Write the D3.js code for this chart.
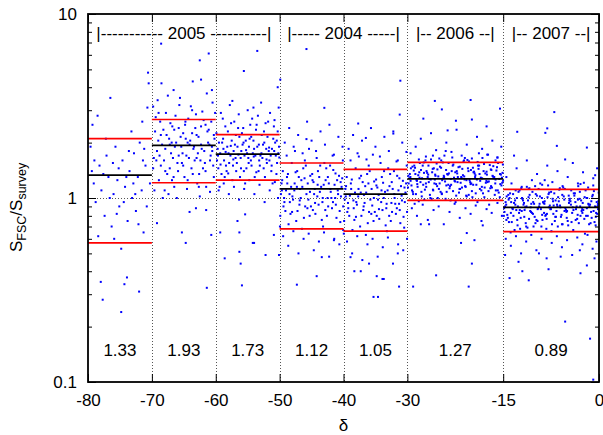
<!DOCTYPE html>
<html><head><meta charset="utf-8">
<script src="https://cdn.jsdelivr.net/npm/d3@7"></script>
<style>body{margin:0;background:#fff}svg{display:block}</style>
</head><body><svg id="c" width="603" height="435"></svg>
<script>
// ---- data ----
const binEdges = [-80, -70, -60, -50, -40, -30, -15, 0];
const binMedian = [1.33, 1.93, 1.73, 1.12, 1.05, 1.27, 0.89];
const binLow = [0.57, 1.21, 1.25, 0.68, 0.66, 0.97, 0.656];
const binHigh = [2.10, 2.67, 2.21, 1.55, 1.43, 1.56, 1.115];
const medianLabels = ["1.33", "1.93", "1.73", "1.12", "1.05", "1.27", "0.89"];
const yearLabels = ["|----------- 2005 ----------|", "|----- 2004 -----|", "|-- 2006 --|", "|-- 2007 --|"];
const yearCenters = [-65, -40, -22.5, -7.5];
const xTicks = [-80, -70, -60, -50, -40, -30, -15, 0];
const xTickLabels = ["-80", "-70", "-60", "-50", "-40", "-30", "-15", "0"];
const yMajorTicks = [0.1, 1, 10];
const yTickLabels = ["0.1", "1", "10"];
const yMinorTicks = [0.2,0.3,0.4,0.5,0.6,0.7,0.8,0.9,2,3,4,5,6,7,8,9];

const bin1Points = [[-70.6,4.8],[-70.5,4.2],[-70.7,3.1],[-76.5,3.5],[-78.5,2.8],[-79.3,2.5],[-73.2,2.3],[-71.5,2.6],
[-78,0.35],[-77.7,0.28],[-74.8,0.24],[-73.9,0.37],[-74.3,0.34],[-72,0.31],[-74.8,0.53],
[-79.6,1.9],[-79.1,1.2],[-78.8,0.95],[-78.2,1.5],[-77.9,1.1],[-77.4,0.8],[-77.1,1.7],[-76.8,1.3],[-76.3,0.7],[-76,1.05],[-75.7,1.9],[-75.4,1.25],[-75.1,0.9],[-74.6,1.6],[-74.2,1.15],[-73.8,0.75],[-73.5,1.4],[-73.1,1],[-72.8,1.75],[-72.5,0.85],[-72.2,1.3],[-71.9,2],[-71.6,1.1],[-71.3,0.65],[-71,1.5],[-70.3,1.2],[-79,1.6],[-78.4,0.62],[-77.6,1.35],[-76.6,1],[-75.9,0.6],[-75.2,1.45],[-74.4,0.95],[-73.6,1.8],[-72.9,1.2],[-72.1,0.72],[-71.4,1.6],[-70.8,0.9],[-79.4,1.4],[-77.2,2.1],[-75.5,0.82],[-74,1.3],[-72.6,1.05],[-71.2,1.85],[-76.1,1.55]];

const bin2Points = [[-68.55,6.9],[-61.1,6.1],[-62.5,5.6],[-62.3,4.4],[-63.6,4.3],[-68.5,4.2],[-66.6,3.86],[-60.6,3.86],[-69.8,3.14],
[-69.2,0.73],[-65.3,0.65],[-64.7,0.57],[-64.1,0.84],[-63.1,0.88],[-61.5,0.86],[-60.7,0.63],[-61.4,0.325],
[-69.8,1.45],[-69.5,2.3],[-69.2,1.8],[-68.9,1.25],[-68.7,2.6],[-68.4,1.95],[-68.1,1.6],[-67.8,2.9],[-67.6,1.35],[-67.3,2.1],[-67,1.75],[-66.8,2.45],[-66.5,1.15],[-66.2,2],[-66,1.55],[-65.7,3.2],[-65.4,1.9],[-65.1,2.25],[-64.9,1.3],[-64.6,1.7],[-64.3,2.7],[-64,2.05],[-63.8,1.45],[-63.5,1.85],[-63.2,2.4],[-62.9,1.2],[-62.7,2.15],[-62.4,1.6],[-62.1,2.95],[-61.8,1.8],[-61.6,1.4],[-61.3,2.3],[-61,1.95],[-60.7,2.6],[-60.4,1.5],[-60.2,2.1],
[-69.6,1.1],[-69,2.05],[-68.6,1.5],[-68.2,2.35],[-67.9,1.85],[-67.4,1.05],[-67.1,2.55],[-66.7,1.65],[-66.3,2.8],[-65.9,1.4],[-65.5,2.15],[-65.2,1.75],[-64.8,2.5],[-64.4,1.25],[-64.1,1.95],[-63.7,3],[-63.3,1.6],[-63,2.2],[-62.6,1.35],[-62.2,1.85],[-61.9,2.65],[-61.5,1.15],[-61.2,2],[-60.8,1.7],[-60.5,3.3],[-60.3,1.3],
[-69.4,2.75],[-68.8,1.7],[-68.3,1],[-67.7,2.2],[-67.2,1.45],[-66.9,2],[-66.4,1.9],[-65.8,2.4],[-65.3,1.55],[-64.7,2.1],[-64.2,1.65],[-63.6,1.35],[-63.1,2.85],[-62.8,1.75],[-62.3,2.45],[-61.7,1.55],[-61.1,2.35],[-60.6,1.9],[-69.1,3.4],[-67.5,3.6],[-65.6,3.5],[-63.9,3.15],[-61.4,3.7],[-60.1,2.9],[-68,1.1],[-66.1,1],[-64.5,1.12],[-62.5,1.02],[-60.9,1.08],[-69.7,1.65],[-66.6,1.3],[-63.4,1.9],[-62,1.45],
[-69.3,1.6],[-68.6,2.2],[-67.9,1.4],[-67.2,1.95],[-66.5,2.35],[-65.8,1.7],[-65.1,1.5],[-64.4,2],[-63.7,2.25],[-63,1.65],[-62.3,1.95],[-61.6,2.5],[-60.9,1.6],[-60.3,2.2],[-68.95,2.9],[-66.85,1.25],[-64.75,2.6],[-62.65,1.15],[-60.55,1.8]];

const bin3Points = [[-53.5,6.3],[-55.6,4.9],[-57.4,3.37],[-54.1,3.1],[-50.3,4],
[-59.3,0.65],[-56.3,0.65],[-55.4,0.815],[-56.6,0.75],[-56.3,0.51],[-56.1,0.44],[-55.9,0.335],[-58.6,0.47],[-54.2,0.57],[-54,0.57],[-52.2,0.49],[-50.9,0.63],[-50.1,0.49],
[-59.8,1.6],[-59.5,2],[-59.1,1.35],[-58.8,1.85],[-58.4,1.5],[-58.1,2.3],[-57.7,1.7],[-57.4,1.25],[-57,1.95],[-56.7,1.55],[-56.3,2.15],[-56,1.8],[-55.6,1.4],[-55.3,2.05],[-54.9,1.65],[-54.6,2.5],[-54.2,1.75],[-53.9,1.3],[-53.5,1.9],[-53.2,1.6],[-52.8,2.2],[-52.5,1.45],[-52.1,1.85],[-51.8,2.6],[-51.4,1.7],[-51.1,1.2],[-50.7,2],[-50.4,1.55],[-50.1,1.9],
[-59.9,2.25],[-59.6,1.45],[-59.3,1.75],[-58.9,2.7],[-58.6,1.3],[-58.2,1.9],[-57.9,1.55],[-57.5,2.05],[-57.2,1.8],[-56.8,1.4],[-56.5,2.4],[-56.1,1.65],[-55.8,1.95],[-55.4,1.2],[-55.1,1.75],[-54.7,2.1],[-54.4,1.5],[-54,1.85],[-53.7,2.35],[-53.3,1.4],[-53,1.7],[-52.6,1.95],[-52.3,1.3],[-51.9,2.15],[-51.6,1.6],[-51.2,1.85],[-50.9,2.45],[-50.5,1.35],[-50.2,1.75],
[-59.7,1.85],[-59.4,1.15],[-59,2],[-58.7,1.6],[-58.3,1.4],[-58,1.75],[-57.6,2.55],[-57.3,1.5],[-56.9,1.65],[-56.6,1.9],[-56.2,1.3],[-55.9,2.25],[-55.5,1.7],[-55.2,1.45],[-54.8,1.9],[-54.5,1.6],[-54.1,2.05],[-53.8,1.7],[-53.4,2.8],[-53.1,1.5],[-52.7,1.65],[-52.4,2],[-52,1.55],[-51.7,1.8],[-51.3,1.4],[-51,2.1],[-50.6,1.7],[-50.3,2.3],
[-59.2,2.9],[-58.5,2.45],[-57.8,3.2],[-57.1,2.6],[-56.4,2.85],[-55.7,2.4],[-55,3],[-54.3,2.7],[-53.6,2.5],[-52.9,3.3],[-52.2,2.55],[-51.5,2.9],[-50.8,2.65],[-50.15,3.1],
[-59.55,1.1],[-58.75,1.2],[-57.95,1.05],[-57.15,1.15],[-56.35,0.98],[-55.55,1.12],[-54.75,1.25],[-53.95,1.05],[-53.15,1.18],[-52.35,0.95],[-51.55,1.1],[-50.75,1.22],[-50.25,1],
[-59.65,1.7],[-59.25,1.52],[-58.85,2.1],[-58.45,1.78],[-58.05,1.36],[-57.65,1.92],[-57.25,1.62],[-56.85,2.2],[-56.45,1.72],[-56.05,1.45],[-55.65,2],[-55.25,1.82],[-54.85,1.55],[-54.45,2.15],[-54.05,1.68],[-53.65,1.38],[-53.25,1.95],[-52.85,1.75],[-52.45,2.3],[-52.05,1.62],[-51.65,1.88],[-51.25,1.5],[-50.85,1.8],[-50.45,2.05],[-50.05,1.66]];

const bin4Points = [[-45.8,6.45],[-43,3.09],[-45.8,2.09],[-49.9,4.4],[-44.2,0.376],[-43.4,0.477],[-41.5,0.59],[-47.3,0.338],
[-49.8,1.05],[-49.5,1.4],[-49.1,0.85],[-48.8,1.2],[-48.4,0.95],[-48.1,1.55],[-47.7,1.1],[-47.4,0.75],[-47,1.3],[-46.7,1],[-46.3,1.45],[-46,0.9],[-45.6,1.2],[-45.3,0.8],[-44.9,1.35],[-44.6,1.05],[-44.2,1.65],[-43.9,0.92],[-43.5,1.15],[-43.2,0.7],[-42.8,1.25],[-42.5,1],[-42.1,1.5],[-41.8,0.88],[-41.4,1.18],[-41.1,0.78],[-40.7,1.32],[-40.4,1.02],[-40.1,1.6],
[-49.9,0.8],[-49.6,1.25],[-49.3,1],[-48.9,1.7],[-48.6,0.72],[-48.2,1.15],[-47.9,0.98],[-47.5,1.38],[-47.2,0.85],[-46.8,1.12],[-46.5,0.68],[-46.1,1.28],[-45.8,1.05],[-45.4,1.85],[-45.1,0.9],[-44.7,1.22],[-44.4,0.82],[-44,1.4],[-43.7,1.08],[-43.3,0.95],[-43,1.55],[-42.6,0.8],[-42.3,1.2],[-41.9,1],[-41.6,1.42],[-41.2,0.92],[-40.9,1.1],[-40.5,0.74],[-40.2,1.28],
[-49.7,1.2],[-49.4,0.9],[-49,1.1],[-48.7,1.35],[-48.3,0.82],[-48,1.02],[-47.6,1.8],[-47.3,1.15],[-46.9,0.92],[-46.6,1.25],[-46.2,0.78],[-45.9,1.5],[-45.5,0.98],[-45.2,1.32],[-44.8,0.86],[-44.5,1.12],[-44.1,1.02],[-43.8,1.3],[-43.4,0.76],[-43.1,1.18],[-42.7,1.45],[-42.4,0.9],[-42,1.08],[-41.7,1.7],[-41.3,1],[-41,1.25],[-40.6,0.85],[-40.3,1.15],
[-49.2,2],[-48.5,2.4],[-47.8,1.9],[-47.1,2.2],[-46.4,1.75],[-45.7,2.6],[-45,2.05],[-44.3,1.8],[-43.6,2.3],[-42.9,1.95],[-42.2,2.5],[-41.5,1.72],[-40.8,2.15],[-40.15,1.9],
[-49.45,0.62],[-48.65,0.55],[-47.85,0.66],[-47.05,0.5],[-46.25,0.6],[-45.45,0.64],[-44.65,0.52],[-43.85,0.58],[-43.05,0.65],[-42.25,0.48],[-41.45,0.6],[-40.65,0.56],[-49.95,0.7],[-40.05,0.67],
[-49.65,1.1],[-49.25,0.95],[-48.85,1.3],[-48.45,1.05],[-48.05,0.84],[-47.65,1.2],[-47.25,1.4],[-46.85,0.97],[-46.45,1.15],[-46.05,1.6],[-45.65,0.88],[-45.25,1.08],[-44.85,1.25],[-44.45,0.94],[-44.05,1.18],[-43.65,1.5],[-43.25,1],[-42.85,0.86],[-42.45,1.3],[-42.05,1.12],[-41.65,0.95],[-41.25,1.36],[-40.85,1.05],[-40.45,1.22],[-40.05,0.9]];

const bin5Points = [[-31.1,4.34],[-37.7,2.54],[-31.2,2.84],[-32.2,2.24],[-36.5,2.12],
[-35.3,0.29],[-34.6,0.29],[-33.9,0.363],[-33.7,0.363],[-34.8,0.376],[-31.3,0.33],[-36,0.44],[-38.3,0.4],[-37.3,0.4],[-38.9,0.477],[-31.5,0.5],
[-39.8,0.98],[-39.5,1.3],[-39.1,0.8],[-38.8,1.12],[-38.4,0.88],[-38.1,1.45],[-37.7,1.02],[-37.4,0.7],[-37,1.22],[-36.7,0.94],[-36.3,1.35],[-36,0.84],[-35.6,1.12],[-35.3,0.75],[-34.9,1.26],[-34.6,0.98],[-34.2,1.55],[-33.9,0.86],[-33.5,1.08],[-33.2,0.66],[-32.8,1.16],[-32.5,0.94],[-32.1,1.4],[-31.8,0.82],[-31.4,1.1],[-31.1,0.73],[-30.7,1.24],[-30.4,0.95],[-30.1,1.5],
[-39.9,0.75],[-39.6,1.16],[-39.3,0.94],[-38.9,1.6],[-38.6,0.67],[-38.2,1.07],[-37.9,0.92],[-37.5,1.28],[-37.2,0.8],[-36.8,1.04],[-36.5,0.63],[-36.1,1.2],[-35.8,0.98],[-35.4,1.72],[-35.1,0.84],[-34.7,1.14],[-34.4,0.77],[-34,1.3],[-33.7,1],[-33.3,0.88],[-33,1.45],[-32.6,0.75],[-32.3,1.12],[-31.9,0.93],[-31.6,1.32],[-31.2,0.86],[-30.9,1.03],[-30.5,0.69],[-30.2,1.2],
[-39.7,1.12],[-39.4,0.84],[-39,1.03],[-38.7,1.26],[-38.3,0.76],[-38,0.95],[-37.6,1.68],[-37.3,1.07],[-36.9,0.86],[-36.6,1.16],[-36.2,0.73],[-35.9,1.4],[-35.5,0.91],[-35.2,1.23],[-34.8,0.8],[-34.5,1.04],[-34.1,0.95],[-33.8,1.21],[-33.4,0.71],[-33.1,1.1],[-32.7,1.35],[-32.4,0.84],[-32,1],[-31.7,1.58],[-31.3,0.93],[-31,1.16],[-30.6,0.79],[-30.3,1.07],
[-39.2,1.85],[-38.5,2.2],[-37.8,1.75],[-37.1,2.05],[-36.4,1.62],[-35.7,2.4],[-35,1.9],[-34.3,1.68],[-33.6,2.15],[-32.9,1.8],[-32.2,2.3],[-31.5,1.6],[-30.8,2],[-30.15,1.78],
[-39.45,0.58],[-38.65,0.5],[-37.85,0.62],[-37.05,0.46],[-36.25,0.56],[-35.45,0.6],[-34.65,0.48],[-33.85,0.54],[-33.05,0.61],[-32.25,0.44],[-31.45,0.56],[-30.65,0.52],[-39.95,0.64],[-30.05,0.6],
[-39.65,1.02],[-39.25,0.88],[-38.85,1.2],[-38.45,0.97],[-38.05,0.79],[-37.65,1.12],[-37.25,1.32],[-36.85,0.9],[-36.45,1.07],[-36.05,1.5],[-35.65,0.82],[-35.25,1],[-34.85,1.17],[-34.45,0.87],[-34.05,1.1],[-33.65,1.4],[-33.25,0.93],[-32.85,0.8],[-32.45,1.22],[-32.05,1.05],[-31.65,0.88],[-31.25,1.28],[-30.85,0.97],[-30.45,1.14],[-30.05,0.84]];

const bin6Points = [[-25.7,3.37],[-20.1,3.41],[-15.5,3.06],[-24.6,3.03],[-27.5,2.7],[-22.4,2.63],[-19.9,2.67],[-23.7,2.33],[-17.6,2.45],
[-25.5,0.38],[-20.4,0.33],[-19.9,0.44],[-21.6,0.57],[-19.5,0.59],[-20.7,0.645],[-26.6,0.72],[-27.9,0.72],[-18.2,0.71],[-29.1,0.33],
[-29.8,1.2],[-29.45,1.45],[-29.1,1.05],[-28.75,1.35],[-28.4,1.15],[-28.05,1.55],[-27.7,1.28],[-27.35,0.98],[-27,1.4],[-26.65,1.22],[-26.3,1.62],[-25.95,1.1],[-25.6,1.32],[-25.25,1],[-24.9,1.48],[-24.55,1.25],[-24.2,1.7],[-23.85,1.08],[-23.5,1.36],[-23.15,1.18],[-22.8,1.52],[-22.45,0.95],[-22.1,1.3],[-21.75,1.12],[-21.4,1.44],[-21.05,1.26],[-20.7,1.02],[-20.35,1.58],[-20,1.2],[-19.65,1.38],[-19.3,1.06],[-18.95,1.5],[-18.6,1.24],[-18.25,1.65],[-17.9,1.14],[-17.55,1.34],[-17.2,0.92],[-16.85,1.42],[-16.5,1.28],[-16.15,1.1],[-15.8,1.55],[-15.45,1.19],[-15.1,1.37],
[-29.62,1.35],[-29.27,1.1],[-28.92,1.5],[-28.57,1.25],[-28.22,0.96],[-27.87,1.42],[-27.52,1.18],[-27.17,1.6],[-26.82,1.3],[-26.47,1.04],[-26.12,1.38],[-25.77,1.2],[-25.42,1.54],[-25.07,1.12],[-24.72,1.46],[-24.37,1.28],[-24.02,0.99],[-23.67,1.34],[-23.32,1.16],[-22.97,1.66],[-22.62,1.24],[-22.27,1.4],[-21.92,1.07],[-21.57,1.3],[-21.22,1.58],[-20.87,1.15],[-20.52,1.45],[-20.17,1.22],[-19.82,1.01],[-19.47,1.36],[-19.12,1.26],[-18.77,1.5],[-18.42,1.1],[-18.07,1.4],[-17.72,1.21],[-17.37,1.72],[-17.02,1.13],[-16.67,1.32],[-16.32,1.04],[-15.97,1.47],[-15.62,1.27],[-15.27,1.17],[-15.05,1.52],
[-29.9,1.14],[-29.53,1.3],[-29.2,1.48],[-28.86,0.93],[-28.5,1.24],[-28.14,1.38],[-27.8,1.08],[-27.44,1.56],[-27.1,1.2],[-26.74,1.34],[-26.4,1],[-26.03,1.44],[-25.7,1.26],[-25.34,1.16],[-25,1.64],[-24.63,1.06],[-24.3,1.32],[-23.94,1.42],[-23.6,1.18],[-23.24,0.97],[-22.9,1.5],[-22.53,1.23],[-22.2,1.36],[-21.84,1.12],[-21.5,1.28],[-21.13,1.6],[-20.8,1.03],[-20.44,1.4],[-20.1,1.19],[-19.74,1.46],[-19.4,1.3],[-19.03,0.95],[-18.7,1.35],[-18.34,1.15],[-18,1.53],[-17.63,1.24],[-17.3,1.09],[-16.94,1.43],[-16.6,1.31],[-16.24,1.2],[-15.9,1.66],[-15.53,1.01],[-15.2,1.29],
[-29.7,1.28],[-29.36,1.17],[-29,1.41],[-28.66,1.05],[-28.3,1.33],[-27.95,1.22],[-27.6,1.5],[-27.26,1.11],[-26.9,1.37],[-26.56,1.27],[-26.2,0.99],[-25.86,1.45],[-25.5,1.19],[-25.16,1.31],[-24.8,1.08],[-24.46,1.56],[-24.1,1.23],[-23.76,1.35],[-23.4,1.13],[-23.06,1.4],[-22.7,1.29],[-22.36,1.03],[-22,1.47],[-21.66,1.21],[-21.3,1.33],[-20.96,1.16],[-20.6,1.61],[-20.26,1.25],[-19.9,1.09],[-19.56,1.39],[-19.2,1.18],[-18.86,1.44],[-18.5,1.29],[-18.16,1.06],[-17.8,1.36],[-17.46,1.22],[-17.1,1.51],[-16.76,1.14],[-16.4,1.3],[-16.06,1.41],[-15.7,1.07],[-15.36,1.34],[-15.02,1.24],
[-29.85,1.32],[-29.5,1.24],[-29.15,1.08],[-28.8,1.46],[-28.45,1.19],[-28.1,1.29],[-27.75,1.02],[-27.4,1.37],[-27.05,1.15],[-26.7,1.5],[-26.35,1.26],[-26,1.11],[-25.65,1.34],[-25.3,1.43],[-24.95,1.2],[-24.6,1.05],[-24.25,1.3],[-23.9,1.17],[-23.55,1.55],[-23.2,1.27],[-22.85,1.09],[-22.5,1.38],[-22.15,1.22],[-21.8,1.48],[-21.45,1.14],[-21.1,1.31],[-20.75,1.25],[-20.4,1.04],[-20.05,1.42],[-19.7,1.18],[-19.35,1.33],[-19,1.57],[-18.65,1.12],[-18.3,1.28],[-17.95,1.01],[-17.6,1.39],[-17.25,1.23],[-16.9,1.16],[-16.55,1.49],[-16.2,1.26],[-15.85,1.1],[-15.5,1.35],[-15.15,1.21],
[-29.5,1.75],[-28.7,1.9],[-27.9,2.1],[-27.1,1.68],[-26.3,2.25],[-25.5,1.82],[-24.7,1.6],[-23.9,2],[-23.1,1.78],[-22.3,2.35],[-21.5,1.7],[-20.7,1.95],[-19.9,1.64],[-19.1,2.15],[-18.3,1.85],[-17.5,1.72],[-16.7,2.05],[-15.9,1.66],[-15.3,1.9],[-28.2,1.62],[-26,1.7],[-24,1.8],[-21,1.65],[-18.8,1.75],[-16.2,1.6],
[-29.3,0.88],[-28.5,0.8],[-27.6,0.92],[-26.8,0.76],[-25.9,0.86],[-25.1,0.9],[-24.3,0.72],[-23.4,0.84],[-22.6,0.93],[-21.8,0.78],[-20.9,0.88],[-20.1,0.82],[-19.3,0.91],[-18.4,0.75],[-17.6,0.87],[-16.8,0.83],[-15.9,0.94],[-15.2,0.8]];

const bin7Points = [[-7,2.93],[-12.8,2.29],[-8.1,2.39],[-8.4,2.26],[-6.6,1.92],[-1.9,1.88],[-5.3,0.213],[-1.4,0.172],[-0.9,0.103],[-11,0.357],[-14,0.367],[-7.9,0.41],[-2.9,0.39],[-1.9,0.43],[-12,0.4],[-14.7,0.49],[-0.7,0.47],
[-14.8,0.84],[-14.45,1.02],[-14.1,0.74],[-13.75,0.95],[-13.4,0.8],[-13.05,1.1],[-12.7,0.9],[-12.35,0.68],[-12,0.99],[-11.65,0.86],[-11.3,1.15],[-10.95,0.77],[-10.6,0.93],[-10.25,0.7],[-9.9,1.05],[-9.55,0.88],[-9.2,1.2],[-8.85,0.76],[-8.5,0.96],[-8.15,0.82],[-7.8,1.07],[-7.45,0.66],[-7.1,0.91],[-6.75,0.79],[-6.4,1.01],[-6.05,0.89],[-5.7,0.72],[-5.35,1.12],[-5,0.85],[-4.65,0.97],[-4.3,0.74],[-3.95,1.06],[-3.6,0.87],[-3.25,1.16],[-2.9,0.8],[-2.55,0.94],[-2.2,0.64],[-1.85,1],[-1.5,0.9],[-1.15,0.78],[-0.8,1.09],[-0.45,0.83],[-0.1,0.96],
[-14.62,0.95],[-14.27,0.78],[-13.92,1.06],[-13.57,0.88],[-13.22,0.67],[-12.87,1],[-12.52,0.83],[-12.17,1.13],[-11.82,0.92],[-11.47,0.73],[-11.12,0.97],[-10.77,0.85],[-10.42,1.08],[-10.07,0.79],[-9.72,1.03],[-9.37,0.9],[-9.02,0.7],[-8.67,0.94],[-8.32,0.81],[-7.97,1.17],[-7.62,0.87],[-7.27,0.99],[-6.92,0.75],[-6.57,0.92],[-6.22,1.11],[-5.87,0.81],[-5.52,1.02],[-5.17,0.86],[-4.82,0.71],[-4.47,0.96],[-4.12,0.89],[-3.77,1.06],[-3.42,0.77],[-3.07,0.99],[-2.72,0.85],[-2.37,1.21],[-2.02,0.8],[-1.67,0.93],[-1.32,0.73],[-0.97,1.04],[-0.62,0.9],[-0.27,0.82],[-0.05,1.07],
[-14.9,0.8],[-14.53,0.92],[-14.2,1.04],[-13.84,0.65],[-13.5,0.87],[-13.14,0.97],[-12.8,0.76],[-12.44,1.1],[-12.1,0.85],[-11.74,0.94],[-11.4,0.7],[-11.03,1.01],[-10.7,0.89],[-10.34,0.82],[-10,1.16],[-9.63,0.75],[-9.3,0.93],[-8.94,1],[-8.6,0.83],[-8.24,0.68],[-7.9,1.05],[-7.53,0.87],[-7.2,0.96],[-6.84,0.79],[-6.5,0.9],[-6.13,1.13],[-5.8,0.72],[-5.44,0.98],[-5.1,0.84],[-4.74,1.03],[-4.4,0.92],[-4.03,0.67],[-3.7,0.95],[-3.34,0.81],[-3,1.08],[-2.63,0.87],[-2.3,0.77],[-1.94,1],[-1.6,0.92],[-1.24,0.84],[-0.9,1.17],[-0.53,0.71],[-0.2,0.91],
[-14.7,0.9],[-14.36,0.81],[-14,1],[-13.66,0.74],[-13.3,0.94],[-12.95,0.86],[-12.6,1.08],[-12.26,0.78],[-11.9,0.97],[-11.56,0.89],[-11.2,0.69],[-10.86,1.04],[-10.5,0.83],[-10.16,0.93],[-9.8,0.76],[-9.46,1.12],[-9.1,0.87],[-8.76,0.95],[-8.4,0.8],[-8.06,1.01],[-7.7,0.91],[-7.36,0.72],[-7,1.06],[-6.66,0.85],[-6.3,0.96],[-5.96,0.79],[-5.6,1.14],[-5.26,0.88],[-4.9,0.75],[-4.56,0.99],[-4.2,0.83],[-3.86,1.03],[-3.5,0.9],[-3.16,0.73],[-2.8,0.97],[-2.46,0.86],[-2.1,1.1],[-1.76,0.8],[-1.4,0.92],[-1.06,1.02],[-0.7,0.74],[-0.36,0.95],[-0.15,0.87],
[-14.85,0.88],[-14.5,0.76],[-14.15,0.98],[-13.8,0.83],[-13.45,1.05],[-13.1,0.92],[-12.75,0.71],[-12.4,0.86],[-12.05,1],[-11.7,0.79],[-11.35,0.9],[-11,1.12],[-10.65,0.84],[-10.3,0.95],[-9.95,0.73],[-9.6,0.87],[-9.25,1.02],[-8.9,0.81],[-8.55,0.93],[-8.2,0.77],[-7.85,0.89],[-7.5,1.08],[-7.15,0.82],[-6.8,0.97],[-6.45,0.7],[-6.1,0.91],[-5.75,1.04],[-5.4,0.85],[-5.05,0.78],[-4.7,0.94],[-4.35,1.1],[-4,0.86],[-3.65,0.76],[-3.3,0.98],[-2.95,0.9],[-2.6,0.83],[-2.25,1.01],[-1.9,0.88],[-1.55,0.72],[-1.2,0.96],[-0.85,0.85],[-0.5,0.79],[-0.15,0.93],
[-14.5,1.3],[-13.7,1.2],[-12.9,1.45],[-12.1,1.15],[-11.3,1.6],[-10.5,1.25],[-9.7,1.35],[-8.9,1.18],[-8.1,1.5],[-7.3,1.22],[-6.5,1.4],[-5.7,1.16],[-4.9,1.3],[-4.1,1.55],[-3.3,1.2],[-2.5,1.38],[-1.7,1.14],[-0.9,1.28],[-0.3,1.45],[-13.3,1.7],[-10.9,1.13],[-8.5,1.25],[-5.3,1.62],[-2.9,1.19],[-0.6,1.33],
[-14.6,0.6],[-13.8,0.55],[-13,0.62],[-12.2,0.5],[-11.4,0.58],[-10.6,0.63],[-9.8,0.52],[-9,0.6],[-8.2,0.47],[-7.4,0.57],[-6.6,0.62],[-5.8,0.54],[-5,0.59],[-4.2,0.49],[-3.4,0.61],[-2.6,0.56],[-1.8,0.63],[-1,0.53],[-0.4,0.58],[-12.6,0.45],[-9.4,0.5],[-6,0.48],[-3,0.52]];

// ---- drawing ----
const FONT = "'Liberation Sans', Arial, Helvetica, sans-serif";
const FS = 17;
const L = 88, R = 599, T = 14, B = 382;
const svg = d3.select("#c");
const x = d3.scaleLinear().domain([-80, 0]).range([L, R]);
const y = d3.scaleLog().domain([0.1, 10]).range([B, T]);

svg.append("defs").append("clipPath").attr("id", "plot")
  .append("rect").attr("x", L).attr("y", T).attr("width", R - L).attr("height", B - T);

// dotted guides
const guides = svg.append("g").attr("stroke", "#555").attr("stroke-width", 1).attr("stroke-dasharray", "1,2");
guides.selectAll("line.v").data(binEdges.slice(1, -1)).join("line")
  .attr("x1", d => Math.round(x(d)) + 0.5).attr("x2", d => Math.round(x(d)) + 0.5)
  .attr("y1", T).attr("y2", B);
guides.append("line").attr("x1", L).attr("x2", R)
  .attr("y1", Math.round(y(1)) + 0.5).attr("y2", Math.round(y(1)) + 0.5);

// scatter
const allPoints = [bin1Points, bin2Points, bin3Points, bin4Points, bin5Points, bin6Points, bin7Points].flat();
svg.append("g").attr("clip-path", "url(#plot)").selectAll("rect").data(allPoints).join("rect")
  .attr("x", d => x(d[0]) - 1).attr("y", d => y(d[1]) - 1)
  .attr("width", 2).attr("height", 2).attr("fill", "#0000ff");

// bin statistics
const bins = binMedian.map((m, i) => ({x0: binEdges[i], x1: binEdges[i + 1], med: m, lo: binLow[i], hi: binHigh[i], lab: medianLabels[i]}));
const stat = svg.append("g");
stat.selectAll("line.hi").data(bins).join("line")
  .attr("x1", d => x(d.x0)).attr("x2", d => x(d.x1)).attr("y1", d => y(d.hi)).attr("y2", d => y(d.hi))
  .attr("stroke", "#ff0000").attr("stroke-width", 1.7);
stat.selectAll("line.lo").data(bins).join("line")
  .attr("x1", d => x(d.x0)).attr("x2", d => x(d.x1)).attr("y1", d => y(d.lo)).attr("y2", d => y(d.lo))
  .attr("stroke", "#ff0000").attr("stroke-width", 1.7);
stat.selectAll("line.med").data(bins).join("line")
  .attr("x1", d => x(d.x0)).attr("x2", d => x(d.x1)).attr("y1", d => y(d.med)).attr("y2", d => y(d.med))
  .attr("stroke", "#000").attr("stroke-width", 1.7);

// labels inside the plot
svg.append("g").selectAll("text").data(bins).join("text")
  .attr("x", d => x((d.x0 + d.x1) / 2)).attr("y", 356)
  .attr("text-anchor", "middle").attr("font-family", FONT).attr("font-size", FS).text(d => d.lab);
svg.append("g").selectAll("text").data(yearLabels).join("text")
  .attr("x", (d, i) => x(yearCenters[i])).attr("y", 38.5)
  .attr("text-anchor", "middle").attr("font-family", FONT).attr("font-size", FS).text(d => d);

// axes
function styleAxis(g) {
  g.select(".domain").remove();
  g.selectAll(".tick line").attr("stroke", "#000").attr("stroke-width", 1);
  g.selectAll(".tick text").attr("font-family", FONT).attr("font-size", FS).attr("fill", "#000");
}
svg.append("g").attr("transform", `translate(0,${B})`)
  .call(d3.axisBottom(x).tickValues(xTicks).tickFormat((d, i) => xTickLabels[i]).tickSize(-8).tickPadding(12)).call(styleAxis);
svg.append("g").attr("transform", `translate(0,${T})`)
  .call(d3.axisTop(x).tickValues(xTicks).tickFormat("").tickSize(-8)).call(styleAxis);
svg.append("g").attr("transform", `translate(${L},0)`)
  .call(d3.axisLeft(y).tickValues(yMajorTicks).tickFormat((d, i) => yTickLabels[i]).tickSize(-8).tickPadding(11)).call(styleAxis);
svg.append("g").attr("transform", `translate(${L},0)`)
  .call(d3.axisLeft(y).tickValues(yMinorTicks).tickFormat("").tickSize(-4)).call(styleAxis);
svg.append("g").attr("transform", `translate(${R},0)`)
  .call(d3.axisRight(y).tickValues(yMajorTicks).tickFormat("").tickSize(-8)).call(styleAxis);
svg.append("g").attr("transform", `translate(${R},0)`)
  .call(d3.axisRight(y).tickValues(yMinorTicks).tickFormat("").tickSize(-4)).call(styleAxis);

// frame
svg.append("rect").attr("x", L).attr("y", T).attr("width", R - L).attr("height", B - T)
  .attr("fill", "none").attr("stroke", "#000").attr("stroke-width", 1.8);

// axis titles
svg.append("text").attr("x", x(-40)).attr("y", 431).attr("text-anchor", "middle")
  .attr("font-family", FONT).attr("font-size", FS).text("δ");
const yl = svg.append("text").attr("transform", "translate(21.5,252) rotate(-90)")
  .attr("font-family", FONT).attr("font-size", FS);
yl.append("tspan").text("S");
yl.append("tspan").attr("font-size", 12.5).attr("dy", 4).text("FSC");
yl.append("tspan").attr("dy", -4).text("/S");
yl.append("tspan").attr("font-size", 12.5).attr("dy", 4).text("survey");
</script>
</body></html>
